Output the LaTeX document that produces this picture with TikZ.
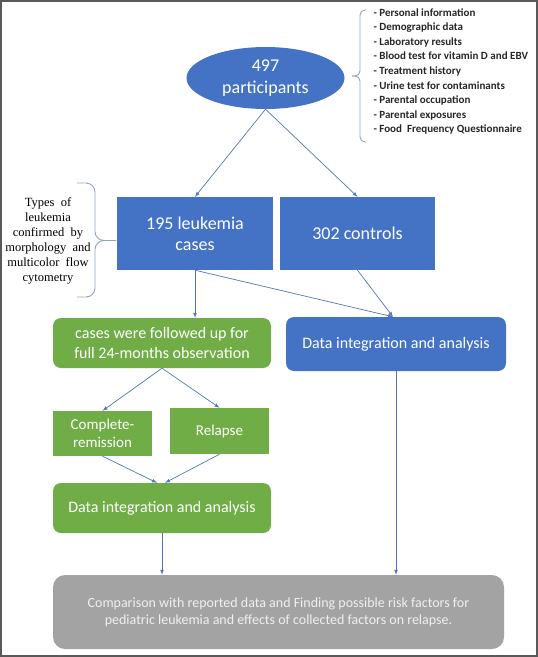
\documentclass[tikz,border=0pt]{standalone}
\usepackage{fontspec}
\setmainfont{Carlito}
\newfontfamily\timesfont{Liberation Serif}
\usetikzlibrary{shapes.geometric,positioning,arrows}

\definecolor{boxblue}{HTML}{4472C4}
\definecolor{boxgreen}{HTML}{70AD47}
\definecolor{boxgray}{HTML}{A3A3A3}
\definecolor{linkblue}{HTML}{4F75BC}
\definecolor{bracegray}{HTML}{8FA3C4}

\begin{document}
\begin{tikzpicture}[
x=1pt, y=-1pt,
blue box/.style={
  fill=boxblue,
  text=white,
  inner sep=0pt,
  align=center,
  font=\fontsize{18}{21}\selectfont
  },
green box/.style={
  fill=boxgreen,
  text=white,
  rounded corners=8pt,
  inner sep=0pt,
  align=center,
  font=\fontsize{16}{20}\selectfont
  },
result box/.style={
  fill=boxgray,
  text=white!94!black,
  rounded corners=12pt,
  inner sep=0pt,
  align=center,
  font=\fontsize{14}{17}\selectfont
  },
link/.style={
  draw=linkblue,
  line width=0.7pt,
  ->
  },
curly/.style={
  draw=bracegray,
  line width=0.9pt,
  rounded corners=#1
  },
>=latex
]
\useasboundingbox (0,0) rectangle (538,657);
\draw[black!65, line width=1.5pt] (1,1) rectangle (537,656);

% top of the study
\node[ellipse, fill=boxblue, text=white, inner sep=0pt, minimum width=158pt,
  minimum height=62pt, align=center, font=\fontsize{18}{22}\selectfont]
  (part) at (265.5,78) {497\\participants};
\node[anchor=west, align=left, text=black!85,
  font=\fontsize{11}{14.6}\selectfont\bfseries]
  (items) at (370,71.5) {- Personal information\\
  - Demographic data\\
  - Laboratory results\\
  - Blood test for vitamin D and EBV\\
  - Treatment history\\
  - Urine test for contaminants\\
  - Parental occupation\\
  - Parental exposures\\
  - Food\ \ Frequency Questionnaire};
\draw[curly=5pt] (366,10) -| (360,76) -- (352,76);
\draw[curly=5pt] (366,142) -| (360,76) -- (352,76);

% groups
\node[blue box, minimum width=156pt, minimum height=73pt] (cases) at (195,233.5) {195 leukemia\\cases};
\node[blue box, minimum width=155pt, minimum height=73pt] (ctrl) at (357.5,233.5) {302 controls};
\node[align=center, font=\timesfont\fontsize{12.5}{15}\selectfont]
  (types) at (48,240.5) {Types\ \ of\\leukemia\\confirmed\ \ by\\morphology\ \ and\\multicolor\ \ flow\\cytometry};
\draw[curly=9pt] (77,183) -| (95,240.5) -- (116,240.5);
\draw[curly=9pt] (77,297) -| (95,240.5) -- (116,240.5);

% follow up
\node[green box, minimum width=218pt, minimum height=50pt] (follow) at (162,343) {cases were followed up for\\full 24-months observation};
\node[blue box, rounded corners=8pt, minimum width=220pt, minimum height=54pt,
  font=\fontsize{16}{20}\selectfont] (dataB) at (396,344) {Data integration and analysis};
\node[green box, minimum width=99pt, minimum height=45pt,
  font=\fontsize{15}{18}\selectfont, rounded corners=0pt] (cr) at (102.5,433.5) {Complete-\\remission};
\node[green box, minimum width=99pt, minimum height=46pt,
  font=\fontsize{15}{18}\selectfont, rounded corners=0pt] (rel) at (219.5,431) {Relapse};
\node[green box, minimum width=218pt, minimum height=50pt] (dataG) at (162,508) {Data integration and analysis};
\node[result box, minimum width=451pt, minimum height=74pt] (result) at (278.5,612)
  {Comparison with reported data and Finding possible risk factors for\\
  pediatric leukemia and effects of collected factors on relapse.};

% links
\foreach \n in {cases,ctrl}
  \draw[link] (part.south) -- (\n.north);
\draw[link] (cases.south) -- (cases.south |- follow.north);
\foreach \n in {cases,ctrl}
  \draw[link] (\n.south) -- ([xshift=-3pt]dataB.north);
\foreach \n in {cr,rel}
  \draw[link] (follow.south) -- (\n.north);
\draw[link] (cr.south) -- ([xshift=-5pt]dataG.north);
\draw[link] (rel.south) -- ([xshift=3pt]dataG.north);
\draw[link] (dataG.south) -- (dataG.south |- result.north);
\draw[link] (dataB.south) -- (dataB.south |- result.north);

\end{tikzpicture}
\end{document}
